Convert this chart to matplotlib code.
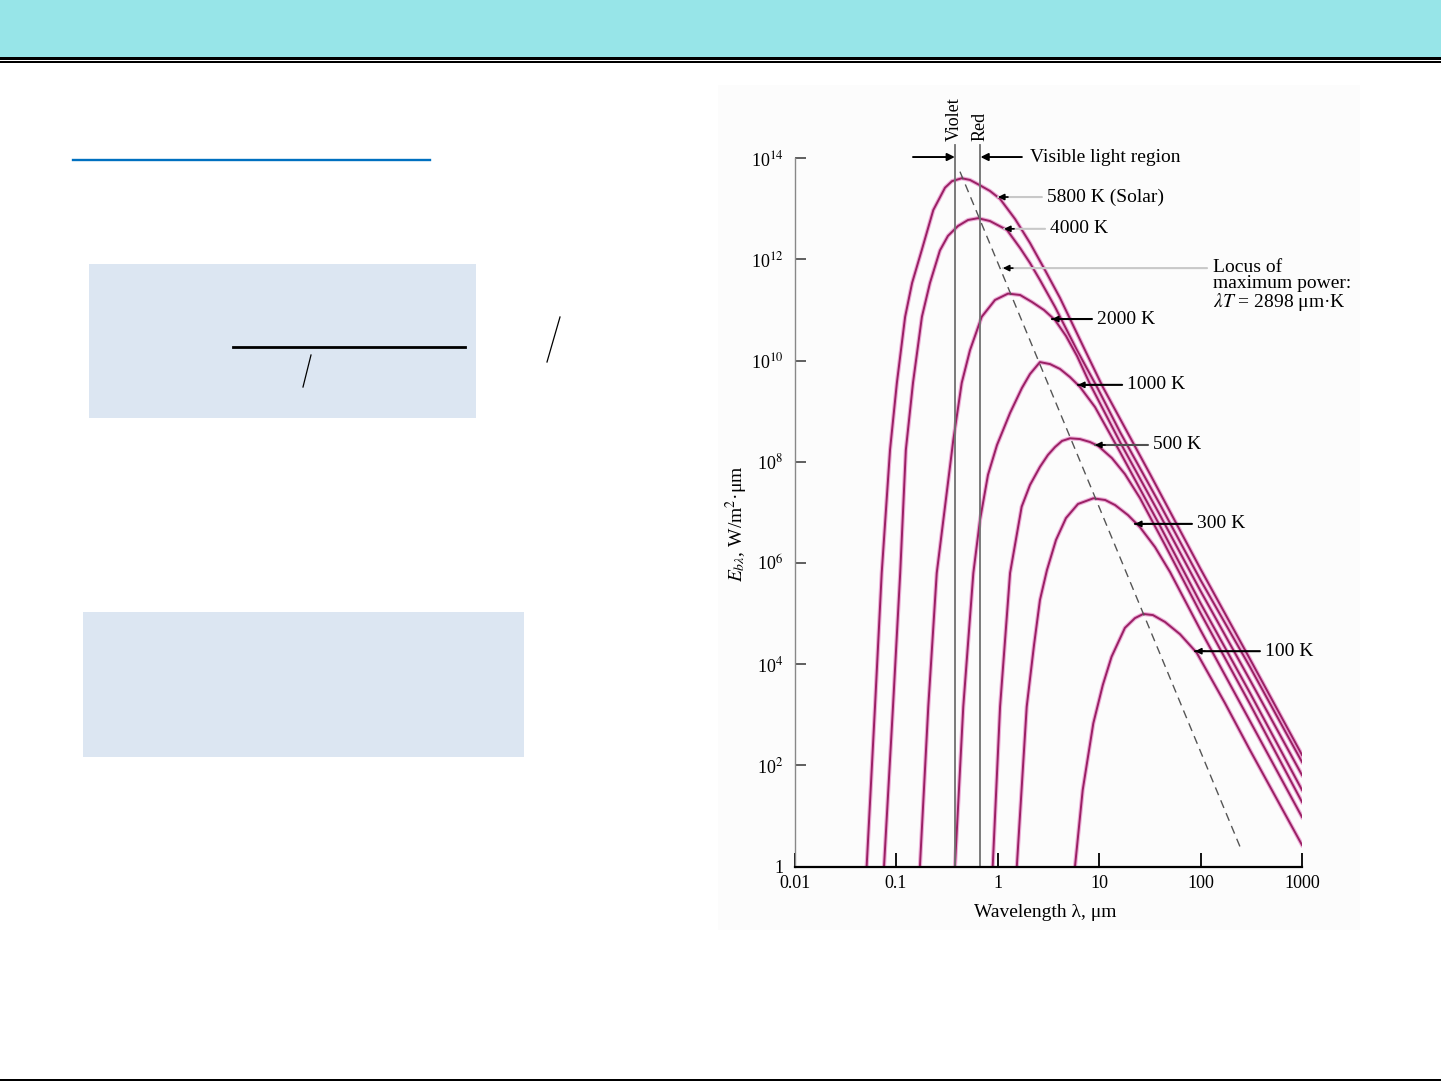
import matplotlib
matplotlib.use('Agg')
import matplotlib.pyplot as plt
from matplotlib.patches import Rectangle
from matplotlib.ticker import NullLocator

# wavelength (um) / emissive power (W/m2.um)
lam_5800 = [0.0514, 0.0621, 0.0723, 0.0873, 0.102, 0.123, 0.144, 0.179, 0.233, 0.304,
            0.356, 0.444, 0.536, 0.672, 0.843, 1.06, 1.49, 2.09, 2.94, 4.13, 7.28,
            10.9, 31.8, 100, 307, 1000]
E_5800 = [1, 1.44e3, 6.3e5, 1.7e8, 3.6e9, 7.3e10, 3.4e11, 1.5e12, 9.4e12, 2.6e13,
          3.5e13, 4.0e13, 3.7e13, 2.9e13, 2.24e13, 1.56e13, 6.25e12, 2.1e12, 6.1e11,
          1.72e11, 1.6e10, 3.0e9, 5.7e7, 7.6e5, 1.26e4, 160]

lam_4000 = [0.0762, 0.0934, 0.110, 0.125, 0.147, 0.180, 0.216, 0.271, 0.325, 0.408,
            0.512, 0.643, 0.843, 1.24, 1.67, 2.09, 2.62, 3.69, 6.07, 9.55, 16.1,
            39.9, 100, 307, 1000]
E_4000 = [1, 1.44e3, 6.3e5, 1.7e8, 3.6e9, 7.3e10, 3.4e11, 1.5e12, 2.9e12, 4.55e12,
          5.98e12, 6.5e12, 5.7e12, 3.8e12, 1.67e12, 8.45e11, 3.9e11, 1.14e11, 1.6e10,
          3.0e9, 3.86e8, 1.43e7, 4.6e5, 8.8e3, 116]

lam_2000 = [0.172, 0.208, 0.252, 0.367, 0.444, 0.536, 0.699, 0.945, 1.27, 1.67,
            2.19, 2.87, 3.69, 4.73, 6.07, 8.15, 16.1, 39.9, 100, 307, 1000]
E_2000 = [1, 1.44e3, 6.3e5, 2.7e8, 3.6e9, 1.6e10, 7.3e10, 1.57e11, 2.1e11, 1.97e11,
          1.43e11, 9.95e10, 6.3e10, 3.05e10, 1.23e10, 3.43e9, 2.45e8, 8.8e6, 2.8e5,
          4.85e3, 64]

lam_1000 = [0.381, 0.460, 0.578, 0.672, 0.806, 0.989, 1.33, 1.74, 2.09, 2.62, 3.29,
            4.13, 5.18, 6.50, 9.14, 16.1, 39.9, 100, 307, 1000]
E_1000 = [1, 1.44e3, 6.3e5, 7.0e6, 5.5e7, 2.14e8, 9.2e8, 2.86e9, 5.4e9, 9.3e9, 8.5e9,
          6.8e9, 4.7e9, 3.0e9, 1.2e9, 1.56e8, 5.4e6, 1.6e5, 2.7e3, 32.5]

lam_500 = [0.897, 1.06, 1.33, 1.73, 2.09, 2.62, 3.14, 3.69, 4.32, 5.18, 6.50, 8.15,
           9.84, 13.4, 18.0, 25.3, 44.7, 100, 307, 1000]
E_500 = [1, 1.44e3, 6.3e5, 1.29e7, 3.47e7, 7.9e7, 1.36e8, 1.95e8, 2.57e8, 2.9e8,
         2.8e8, 2.45e8, 2.04e8, 1.18e8, 5.7e7, 1.92e7, 2.26e6, 1.02e5, 1.63e3, 18.8]

lam_300 = [1.55, 1.94, 2.29, 2.62, 3.07, 3.77, 4.73, 6.21, 8.79, 11.5, 14.4, 19.3,
           25.3, 35.6, 50.1, 100, 307, 1000]
E_300 = [1, 1.44e3, 2.38e4, 1.85e5, 7.2e5, 2.84e6, 7.7e6, 1.46e7, 1.89e7, 1.75e7,
         1.39e7, 8.8e6, 5.1e6, 2.06e6, 6.6e5, 4.7e4, 750, 9.5]

lam_100 = [5.80, 6.91, 8.79, 10.9, 13.3, 18.0, 22.6, 27.3, 34.0, 44.7, 62.8, 91.7,
           174, 307, 1000]
E_100 = [1, 32.5, 676, 3.86e3, 1.4e4, 5.2e4, 8.1e4, 9.8e4, 9.3e4, 6.8e4, 3.9e4,
         1.68e4, 1.7e3, 200, 2.66]

# dashed locus of maximum power (end points)
locus_lam = [0.427, 245]
locus_E = [5.4e13, 2.46]

# visible band edges (um)
violet_lam = 0.38
red_lam = 0.68

y_ticks = [1, 1e2, 1e4, 1e6, 1e8, 1e10, 1e12, 1e14]
y_labels = ['1', '10$^2$', '10$^4$', '10$^6$', '10$^8$', '10$^{10}$', '10$^{12}$', '10$^{14}$']
x_ticks = [0.01, 0.1, 1, 10, 100, 1000]
x_labels = ['0.01', '0.1', '1', '10', '100', '1000']

plt.rcParams['font.family'] = ['Liberation Serif', 'DejaVu Serif']
plt.rcParams['mathtext.fontset'] = 'stix'

W, H = 1441, 1081
fig = plt.figure(figsize=(W / 100, H / 100), dpi=100)

# ---- slide background (pixel coordinates) ----
bg = fig.add_axes([0, 0, 1, 1])
bg.set_xlim(0, W)
bg.set_ylim(H, 0)
bg.axis('off')
bg.add_patch(Rectangle((0, 0), W, 56.5, color='#97e5e8', lw=0))
bg.add_patch(Rectangle((0, 56.5), W, 3, color='black', lw=0))
bg.add_patch(Rectangle((0, 61.3), W, 1.8, color='black', lw=0))
bg.add_patch(Rectangle((0, 1079.3), W, 1.7, color='black', lw=0))
bg.plot([73, 430], [160, 160], color='#0070c0', lw=1.7)
bg.add_patch(Rectangle((89, 264), 387, 154, color='#dce6f2', lw=0))
bg.add_patch(Rectangle((83, 612), 441, 145, color='#dce6f2', lw=0))
bg.plot([233, 465], [347, 347], color='black', lw=2)
bg.plot([303, 311], [387, 355], color='black', lw=0.9)
bg.plot([547, 560], [362, 317], color='black', lw=0.9)
bg.add_patch(Rectangle((718, 85), 642, 845, color='#fcfcfc', lw=0))

# ---- chart ----
ax = fig.add_axes([794.5 / W, 1 - 866.5 / H, 507.5 / W, 708.4 / H])
ax.patch.set_alpha(0)
ax.set_xscale('log')
ax.set_yscale('log')
ax.set_xlim(0.01, 1000)
ax.set_ylim(1, 1e14)

curves = [(lam_5800, E_5800), (lam_4000, E_4000), (lam_2000, E_2000),
          (lam_1000, E_1000), (lam_500, E_500), (lam_300, E_300), (lam_100, E_100)]
for lam, E in curves:
    ax.plot(lam, E, color='#e27ac0', lw=3.0, alpha=0.6, solid_joinstyle='round')
    ax.plot(lam, E, color='#9a2064', lw=1.4, solid_joinstyle='round')

ax.plot(locus_lam, locus_E, color='#555555', lw=1.0, ls=(0, (6, 4)))

for v in [violet_lam, red_lam]:
    ax.plot([v, v], [1, 1.8e14], color='#707070', lw=1.3, clip_on=False)
ax.text(0.375, 2.2e14, 'Violet', rotation=90, ha='center', va='bottom', fontsize=13)
ax.text(0.675, 2.2e14, 'Red', rotation=90, ha='center', va='bottom', fontsize=13)

# visible light region arrows
arr = dict(arrowstyle='-|>', color='black', lw=1.4, mutation_scale=11, shrinkA=0, shrinkB=0)
ax.annotate('', xy=(violet_lam, 1.05e14), xytext=(0.147, 1.05e14), arrowprops=arr,
            annotation_clip=False)
ax.annotate('', xy=(red_lam, 1.05e14), xytext=(1.74, 1.05e14), arrowprops=arr,
            annotation_clip=False)
ax.text(2.09, 1.05e14, 'Visible light region', ha='left', va='center', fontsize=14)


def label(text, tip, start, txt_lam, line_color, va='center', txt_E=None):
    ax.annotate('', xy=tip, xytext=start,
                arrowprops=dict(arrowstyle='-', color=line_color, lw=1.5,
                                shrinkA=0, shrinkB=0), annotation_clip=False)
    ax.annotate('', xy=tip, xytext=(tip[0] * 10 ** (10 / 101.5), tip[1]),
                arrowprops=dict(arrowstyle='-|>', color='black', lw=1.2,
                                mutation_scale=9, shrinkA=0, shrinkB=0),
                annotation_clip=False)
    ax.text(txt_lam, tip[1] if txt_E is None else txt_E, text, ha='left', va=va,
            fontsize=14, linespacing=0.92)


label('5800 K (Solar)', (1.01, 1.7e13), (2.74, 1.7e13), 3.07, '#c8c8c8')
label('4000 K', (1.16, 4.0e12), (2.94, 4.0e12), 3.29, '#c8c8c8')
label('Locus of\nmaximum power:\n$\\lambda T$ = 2898 μm·K', (1.13, 6.7e11), (116, 6.7e11),
      133, '#c8c8c8', va='top', txt_E=1.0e12)
label('2000 K', (3.44, 6.6e10), (8.53, 6.6e10), 9.55, 'black')
label('1000 K', (6.21, 3.3e9), (16.9, 3.3e9), 18.9, 'black')
label('500 K', (9.14, 2.14e8), (30.4, 2.14e8), 34.0, '#505050')
label('300 K', (22.6, 5.9e6), (82.4, 5.9e6), 92.4, 'black')
label('100 K', (88.3, 1.8e4), (385, 1.8e4), 432, 'black')

ax.set_yticks(y_ticks)
ax.set_yticklabels(y_labels)
ax.set_xticks(x_ticks)
ax.set_xticklabels(x_labels)
ax.xaxis.set_minor_locator(NullLocator())
ax.yaxis.set_minor_locator(NullLocator())
ax.tick_params(axis='x', direction='in', length=10, width=1.3, pad=6, labelsize=13)
ax.tick_params(axis='y', direction='in', length=8, width=1.2, color='#444444',
               pad=8, labelsize=13)
ax.xaxis.get_major_ticks()[3].tick1line.set_color('#d8c8d0')

for s in ['top', 'right']:
    ax.spines[s].set_visible(False)
ax.spines['left'].set_color('#888888')
ax.spines['left'].set_linewidth(1.0)
ax.spines['bottom'].set_linewidth(1.6)

ax.set_xlabel('Wavelength λ, μm', fontsize=14)
ax.xaxis.set_label_coords(0.4936, -0.053)
ax.set_ylabel('$E_{b\\lambda}$, W/m$^2$·μm', fontsize=14)
ax.yaxis.set_label_coords(-0.088, 0.484)

fig.savefig('out.png', dpi=100)
